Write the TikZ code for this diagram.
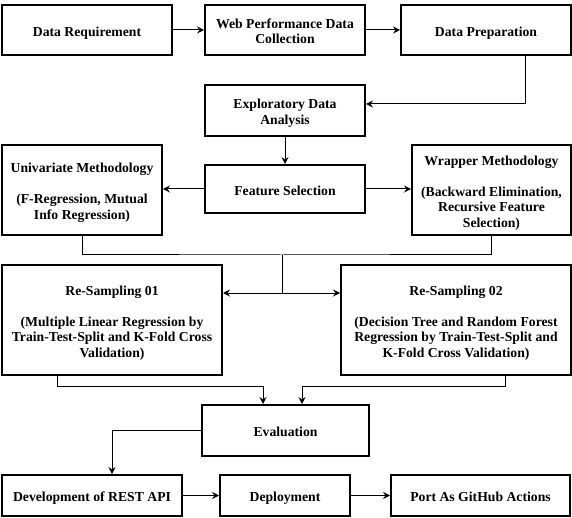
\documentclass[tikz,border=0pt]{standalone}
\usepackage{fontspec}
\setmainfont{Liberation Serif}
\usetikzlibrary{arrows.meta}
\newcommand\tsT{\rule{0pt}{16pt}}
\newcommand\tsB{\rule[-3.5pt]{0pt}{0pt}}
\begin{document}
\begin{tikzpicture}[x=1pt,y=-1pt,
  box/.style={draw=black, line width=2pt, fill=white, align=center,
    font=\fontsize{13.7}{15.5}\selectfont\bfseries, inner sep=0pt},
  arr/.style={-{Stealth[length=7pt,width=7pt,inset=2.5pt]}, line width=1pt},
  ln/.style={line width=1pt}]
\useasboundingbox (0,0) rectangle (572,518);
% row 1
\node[box, minimum width=170pt, minimum height=50pt] (dr) at (87,30) {\tsT Data Requirement\tsB};
\node[box, minimum width=160pt, minimum height=50pt] (wp) at (285,30) {\tsT Web Performance Data\\Collection\tsB};
\node[box, minimum width=170pt, minimum height=50pt] (dp) at (486,30) {\tsT Data Preparation\tsB};
% EDA
\node[box, minimum width=160pt, minimum height=51pt] (eda) at (285,110.5) {\tsT Exploratory Data\\Analysis\tsB};
% feature selection row
\node[box, minimum width=160pt, minimum height=48pt] (fs) at (285,189) {\tsT Feature Selection\tsB};
\node[box, minimum width=160pt, minimum height=90pt] (uni) at (82,190) {\tsT Univariate Methodology\\[15.5pt](F-Regression, Mutual\\Info Regression)\tsB};
\node[box, minimum width=159pt, minimum height=90pt] (wr) at (491.5,190) {\tsT Wrapper Methodology\\[15.5pt](Backward Elimination,\\Recursive Feature\\Selection)\tsB};
% resampling
\node[box, minimum width=220pt, minimum height=110pt] (rs1) at (112,320) {\tsT Re-Sampling 01\\[15.5pt](Multiple Linear Regression by\\Train-Test-Split and K-Fold Cross\\Validation)\tsB};
\node[box, minimum width=230pt, minimum height=110pt] (rs2) at (456,320) {\tsT Re-Sampling 02\\[15.5pt](Decision Tree and Random Forest\\Regression by Train-Test-Split and\\K-Fold Cross Validation)\tsB};
% evaluation
\node[box, minimum width=167pt, minimum height=51pt] (ev) at (285.5,430.5) {\tsT Evaluation\tsB};
% bottom row
\node[box, minimum width=180pt, minimum height=41pt] (dev) at (92,495.5) {\tsT Development of REST API\tsB};
\node[box, minimum width=130pt, minimum height=41pt] (dep) at (285,495.5) {\tsT Deployment\tsB};
\node[box, minimum width=179pt, minimum height=41pt] (port) at (480.5,495.5) {\tsT Port As GitHub Actions\tsB};
% junction coordinates
\coordinate (jt) at (282,255);
\coordinate (jb) at (282,293);
% connectors
\draw[arr] (dr.east) -- (wp.west);
\draw[arr] (wp.east) -- (dp.west);
\draw[arr] ([xshift=39pt]dp.south) |- ([yshift=6.5pt]eda.east);
\draw[arr] (eda.south) -- (fs.north);
\draw[arr] (fs.west) -- (fs.west -| uni.east);
\draw[arr] (fs.east) -- (fs.east -| wr.west);
\draw[ln] (uni.south) |- (jt) -| (wr.south);
\draw[ln] (jt) -- (jb);
\draw[arr] (jb) -- (jb -| rs1.east);
\draw[arr] (jb) -- (jb -| rs2.west);
\draw[arr] ([xshift=-55pt]rs1.south) -- ++(0,10) -| ([xshift=-22.5pt]ev.north);
\draw[arr] ([xshift=49pt]rs2.south) -- ++(0,10) -| ([xshift=16.5pt]ev.north);
\draw[arr] (ev.west) -| ([xshift=20pt]dev.north);
\draw[arr] (dev.east) -- (dep.west);
\draw[arr] (dep.east) -- (port.west);
\end{tikzpicture}
\end{document}
